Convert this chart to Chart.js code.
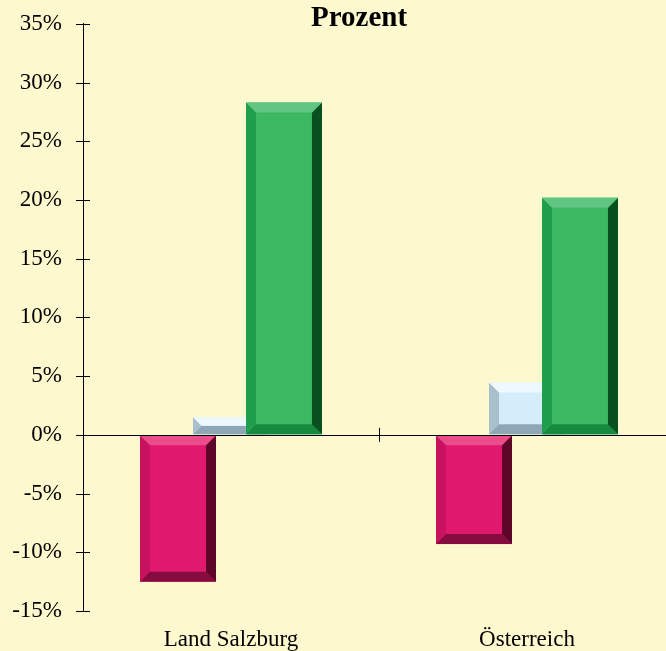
<!DOCTYPE html>
<html>
<head>
<meta charset="utf-8">
<script src="https://cdn.jsdelivr.net/npm/chart.js@4/dist/chart.umd.min.js"></script>
<style>
  html, body { margin: 0; padding: 0; background: #fdf8cd; overflow: hidden; }
  #wrap { width: 666px; height: 651px; overflow: hidden; }
  #box { width: 690px; height: 651px; }
</style>
</head>
<body>
<div id="wrap"><div id="box"><canvas id="chart"></canvas></div></div>
<script>
// ================================
// DATA
// ================================
const regions = ["Land Salzburg", "Österreich"];
const seriesA = [-12.5, -9.3];   // magenta
const seriesB = [1.5, 4.45];     // light blue
const seriesC = [28.3, 20.2];    // green
const yMin = -15, yMax = 35, yStep = 5;

// face, light (top), left, bottom, right (dark)
const bevels = [
  { face: "#e0196e", top: "#ea4c8c", left: "#c81260", bottom: "#860b3e", right: "#5e0628" },
  { face: "#d4edf8", top: "#eef9fd", left: "#a9bfcc", bottom: "#8ea7b6", right: "#7d95a3" },
  { face: "#3cb762", top: "#5fc580", left: "#1f9e4c", bottom: "#168a3e", right: "#08501f" }
];

Chart.defaults.font.family = "'Liberation Serif', 'Times New Roman', serif";
Chart.defaults.color = "#000000";

function poly(ctx, pts, color) {
  ctx.beginPath();
  ctx.moveTo(pts[0][0], pts[0][1]);
  for (let i = 1; i < pts.length; i++) ctx.lineTo(pts[i][0], pts[i][1]);
  ctx.closePath();
  ctx.fillStyle = color;
  ctx.fill();
}

// title sits a bit off centre in the original
const titleShift = {
  id: "titleShift",
  afterLayout(chart) {
    if (chart.titleBlock) chart.titleBlock.left = 43;
  }
};

// draw datasets left to right so the right bar covers its neighbour, add bevels
const bevelBars = {
  id: "bevelBars",
  beforeDatasetsDraw(chart) {
    const ctx = chart.ctx;
    const n = chart.data.datasets.length;
    for (let i = 0; i < n; i++) {
      const meta = chart.getDatasetMeta(i);
      const b = bevels[i];
      meta.data.forEach(el => {
        const p = el.getProps(["x", "y", "base", "width"], true);
        const l = p.x - p.width / 2, r = p.x + p.width / 2;
        const t = Math.min(p.y, p.base), btm = Math.max(p.y, p.base);
        const d = Math.min(10, (btm - t) / 2, p.width / 2);
        ctx.save();
        ctx.fillStyle = b.face;
        ctx.fillRect(l, t, r - l, btm - t);
        poly(ctx, [[l, t], [l + d, t + d], [l + d, btm - d], [l, btm]], b.left);
        poly(ctx, [[l, btm], [r, btm], [r - d, btm - d], [l + d, btm - d]], b.bottom);
        poly(ctx, [[r, t], [r, btm], [r - d, btm - d], [r - d, t + d]], b.right);
        poly(ctx, [[l, t], [r, t], [r - d, t + d], [l + d, t + d]], b.top);
        ctx.restore();
      });
    }

    // zero line, y tick marks, category divider tick
    const x = chart.scales.x, y = chart.scales.y;
    const y0 = y.getPixelForValue(0);
    ctx.save();
    ctx.strokeStyle = "#000000";
    ctx.lineWidth = 1;
    ctx.beginPath();
    ctx.moveTo(chart.chartArea.left, Math.round(y0) + 0.5);
    ctx.lineTo(chart.chartArea.right, Math.round(y0) + 0.5);
    y.ticks.forEach(tk => {
      const py = Math.round(y.getPixelForValue(tk.value)) + 0.5;
      ctx.moveTo(y.right - 7, py);
      ctx.lineTo(y.right + 7, py);
    });
    for (let i = 0; i < regions.length - 1; i++) {
      const px = Math.round((x.getPixelForValue(i) + x.getPixelForValue(i + 1)) / 2) + 0.5;
      ctx.moveTo(px, y0 - 7);
      ctx.lineTo(px, y0 + 7);
    }
    ctx.stroke();
    ctx.restore();
    return false;
  }
};

new Chart(document.getElementById("chart"), {
  type: "bar",
  data: {
    labels: regions,
    datasets: [
      { data: seriesA, backgroundColor: bevels[0].face },
      { data: seriesB, backgroundColor: bevels[1].face },
      { data: seriesC, backgroundColor: bevels[2].face }
    ]
  },
  options: {
    responsive: true,
    maintainAspectRatio: false,
    animation: false,
    categoryPercentage: 0.537,
    barPercentage: 1.434,
    layout: { padding: { left: 0, right: 15, top: 0, bottom: 0 } },
    plugins: {
      legend: { display: false },
      tooltip: { enabled: false },
      title: {
        display: true,
        text: "Prozent",
        font: { size: 29, weight: "bold", lineHeight: 0.34 },
        padding: { top: 14, bottom: 0 }
      }
    },
    scales: {
      x: {
        grid: { display: false, drawTicks: false },
        border: { display: false },
        ticks: { font: { size: 23 }, padding: 15, color: "#000000" },
        afterFit(scale) { scale.height = 40; }
      },
      y: {
        min: yMin,
        max: yMax,
        grid: { drawOnChartArea: false, drawTicks: true, tickLength: 7, color: "transparent", tickColor: "transparent" },
        border: { display: true, color: "#000000", width: 1 },
        ticks: { stepSize: yStep, font: { size: 23, lineHeight: 1 }, padding: 14, color: "#000000", callback: v => v + "%" },
        afterFit(scale) {
          scale.width = 83;
          scale.paddingTop = 0;
          scale.paddingBottom = 0;
        }
      }
    }
  },
  plugins: [titleShift, bevelBars]
});
</script>
</body>
</html>
